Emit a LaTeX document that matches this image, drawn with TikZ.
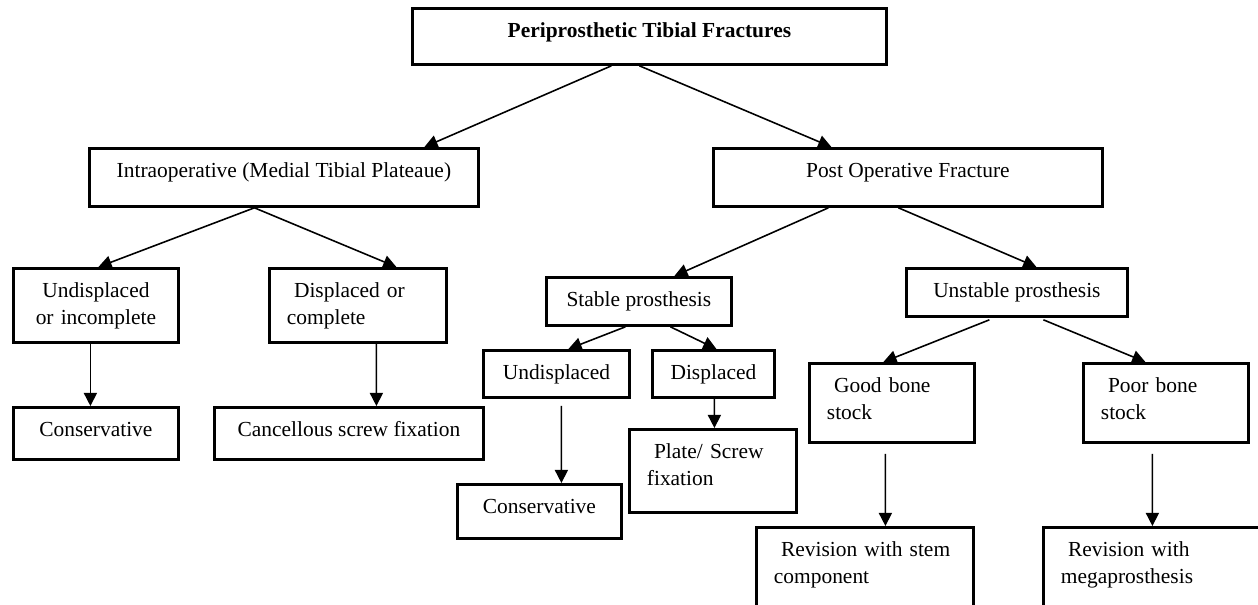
\documentclass[tikz,border=0pt]{standalone}
\usepackage{fontspec}
\setmainfont{Liberation Serif}
\usetikzlibrary{arrows.meta}

\begin{document}
\begin{tikzpicture}[box/.style={draw, line width=1.6pt, inner ysep=0pt, inner xsep=0pt, anchor=north west, text height=0.58cm, font=\fontsize{12.2}{15.6}\selectfont},lbox/.style={box, align=left, inner xsep=0.35cm},arrow/.style={-{Triangle[length=7.5pt, width=7.5pt]}, line width=0.9pt}]
\useasboundingbox (0,0) rectangle (25.16,-12.10);
\node[box, minimum width=9.48cm, text depth=0.54cm] (root) at (8.22,-0.14) {\textbf{Periprosthetic Tibial Fractures}};
\node[box, minimum width=7.78cm, text depth=0.58cm] (intra) at (1.76,-2.94) {Intraoperative (Medial Tibial Plateaue)};
\node[box, minimum width=7.78cm, text depth=0.58cm] (post) at (14.24,-2.94) {Post Operative Fracture};
\node[box, align=center, text width=3.30cm, text depth=0.90cm] (undisp) at (0.24,-5.34) {Undisplaced\\or incomplete};
\node[lbox, text width=2.84cm, text depth=0.90cm] (disp) at (5.36,-5.34) {\ Displaced or\\complete};
\node[box, minimum width=3.30cm, text depth=0.46cm] (conserv) at (0.24,-8.12) {Conservative};
\node[box, minimum width=5.38cm, text depth=0.46cm] (screw) at (4.26,-8.12) {Cancellous screw fixation};
\node[box, minimum width=3.70cm, text depth=0.38cm] (stable) at (10.90,-5.52) {Stable prosthesis};
\node[box, minimum width=4.42cm, text depth=0.38cm] (unstable) at (18.10,-5.34) {Unstable prosthesis};
\node[box, minimum width=2.92cm, text depth=0.36cm] (sundisp) at (9.64,-6.98) {Undisplaced};
\node[box, minimum width=2.44cm, text depth=0.36cm] (sdisp) at (13.02,-6.98) {Displaced};
\node[box, minimum width=3.28cm, text depth=0.50cm] (sconserv) at (9.12,-9.66) {Conservative};
\node[lbox, text width=2.64cm, text depth=1.08cm] (plate) at (12.56,-8.56) {\ Plate/ Screw\\fixation};
\node[lbox, text width=2.60cm, text depth=1.00cm] (good) at (16.16,-7.24) {\ Good bone\\stock};
\node[lbox, text width=2.60cm, text depth=1.00cm] (poor) at (21.64,-7.24) {\ Poor bone\\stock};
\node[lbox, text width=3.64cm, text depth=1.70cm] (stem) at (15.10,-10.52) {\ Revision with stem\\component};
\node[lbox, text width=3.70cm, text depth=1.70cm] (mega) at (20.84,-10.52) {\ Revision with\\megaprosthesis};
\draw[arrow] ([xshift=-0.76cm]root.south) -- ([xshift=2.81cm]intra.north);\draw[arrow] ([xshift=-0.20cm]root.south) -- ([xshift=-1.53cm]post.north);
\draw[arrow] ([xshift=-0.59cm]intra.south) -- ([xshift=0.05cm]undisp.north);\draw[arrow] ([xshift=-0.59cm]intra.south) -- ([xshift=0.77cm]disp.north);
\draw[arrow] ([xshift=-0.11cm]undisp.south) -- ([xshift=-0.11cm]conserv.north);\draw[arrow] ([xshift=0.37cm]disp.south) -- ([xshift=0.55cm]screw.north);
\draw[arrow] ([xshift=-1.59cm]post.south) -- ([xshift=0.71cm]stable.north);\draw[arrow] ([xshift=-0.19cm]post.south) -- ([xshift=0.39cm]unstable.north);
\draw[arrow] ([xshift=-0.27cm]stable.south) -- ([xshift=0.24cm]sundisp.north);\draw[arrow] ([xshift=0.63cm]stable.south) -- ([xshift=0.06cm]sdisp.north);
\draw[arrow] ([xshift=0.10cm, yshift=-0.14cm]sundisp.south) -- ([xshift=0.44cm]sconserv.north);\draw[arrow] ([xshift=0.02cm]sdisp.south) -- ([xshift=0.03cm]plate.north);
\draw[arrow] ([xshift=-0.55cm, yshift=-0.04cm]unstable.south) -- ([xshift=-0.17cm]good.north);\draw[arrow] ([xshift=0.53cm, yshift=-0.04cm]unstable.south) -- ([xshift=-0.41cm]poor.north);
\draw[arrow] ([xshift=-0.13cm, yshift=-0.20cm]good.south) -- ([xshift=0.41cm]stem.north);\draw[arrow] ([xshift=-0.27cm, yshift=-0.20cm]poor.south) -- ([xshift=-0.02cm]mega.north);
\end{tikzpicture}
\end{document}
